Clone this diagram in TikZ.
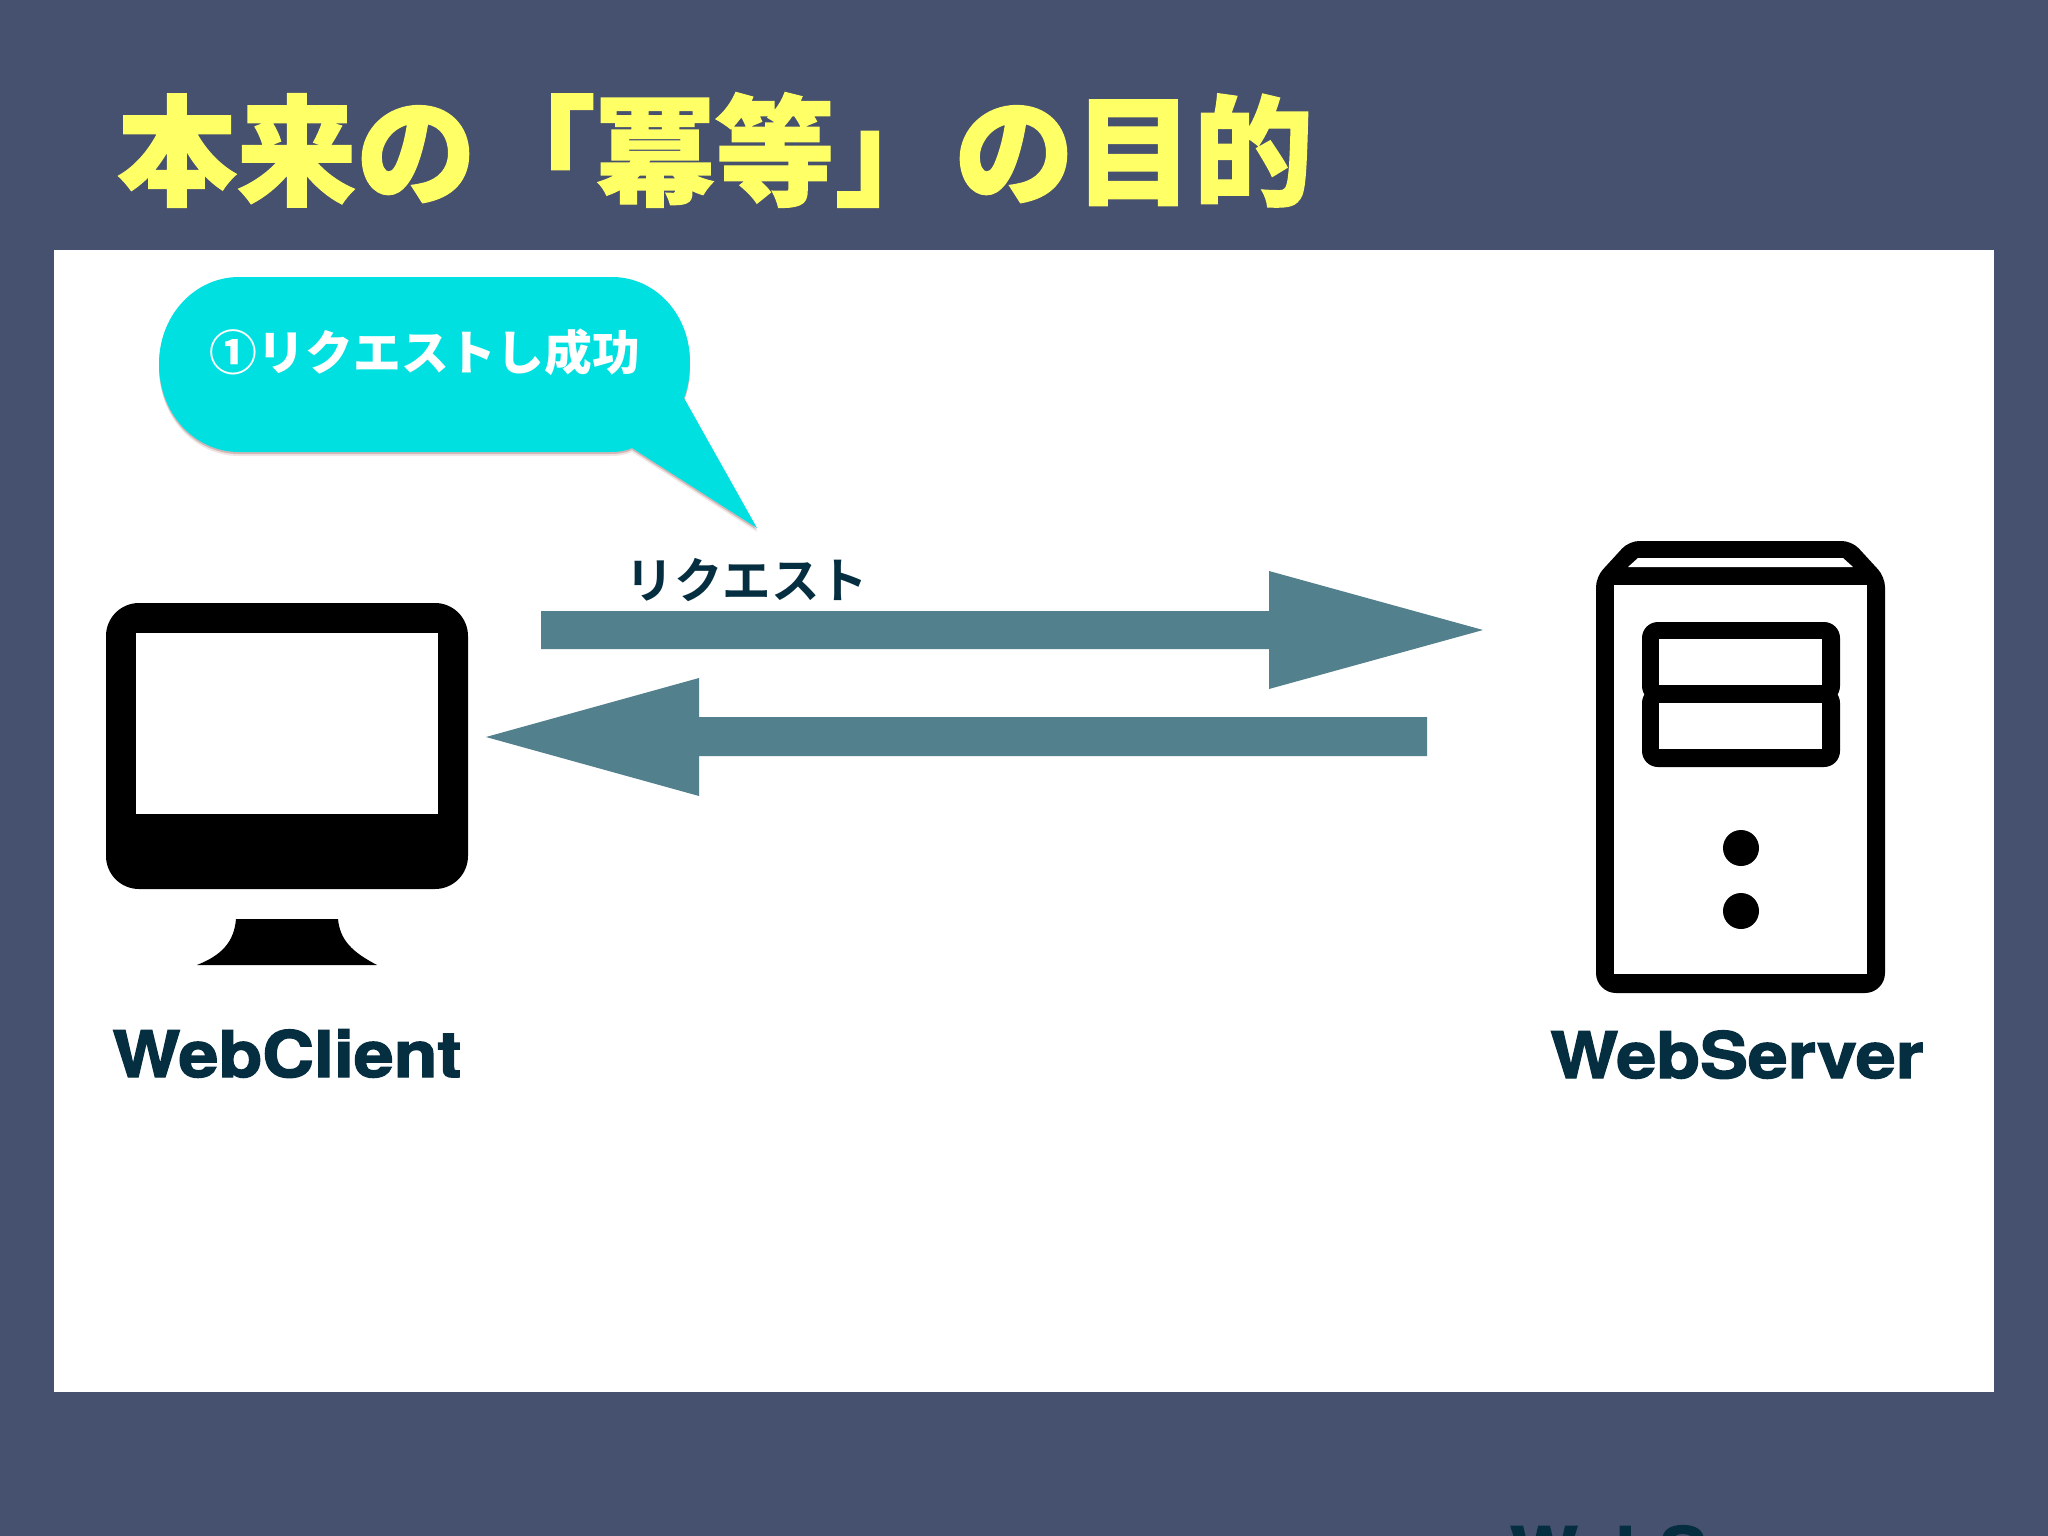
\documentclass[tikz,border=0pt]{standalone}
\usepackage{fontspec}
\newfontfamily\blk{Noto Sans CJK JP Black}
\newfontfamily\blkx[FakeBold=1.2]{Noto Sans CJK JP Black}
\newfontfamily\bld{Noto Sans CJK JP Bold}
\newfontfamily\lat[FakeBold=2.2,FakeStretch=1.12]{TeX Gyre Heros Bold}
\definecolor{bgnavy}{HTML}{46506F}
\definecolor{ttlyellow}{HTML}{FFFF66}
\definecolor{bubblecyan}{HTML}{00E0E0}
\definecolor{arrowteal}{HTML}{53808D}
\definecolor{inkdark}{HTML}{052E40}
\tikzset{
  ttl/.style={anchor=base west,inner sep=0pt,text=ttlyellow,font=\blkx\fontsize{119.6}{120}\selectfont},
  hostlabel/.style={anchor=base,inner sep=0pt,text=inkdark,font=\lat\fontsize{64}{64}\selectfont},
  blockarrow/.style={fill=arrowteal,draw=none},
  bubblepath/.style={fill=bubblecyan,draw=none},
  ink/.style={fill=black,draw=none},
  hole/.style={fill=white,draw=none}
}
\begin{document}
\begin{tikzpicture}[x=1pt,y=-1pt]
\useasboundingbox (0,0) rectangle (2048,1536);
\clip (0,0) rectangle (2048,1536);
\fill[bgnavy] (0,0) rectangle (2048,1536);
\fill[white] (54,250) rectangle (1994,1392);
\node[ttl] (title) at (117,196) {本来の「冪等」の目的};
% speech bubble
\def\bubble{(239,277) -- (612,277) .. controls (655,277) and (690,314) .. (690,362) .. controls (690,376) and (688,388) .. (684,398) -- (757,528) -- (632,448) .. controls (626,451) and (618,452) .. (610,452) -- (239,452) .. controls (195,452) and (159,414) .. (159,364) .. controls (159,315) and (195,277) .. (239,277) -- cycle}
\fill[black!60!red,opacity=.10] [yshift=-4pt] \bubble;
\fill[black!60!red,opacity=.20] [yshift=-2pt] \bubble;
\path[bubblepath] \bubble;
\node[inner sep=0pt,text=white,font=\blk\fontsize{47.8}{48}\selectfont] (bubbletext) at (425,352) {①リクエストし成功};
% arrows
\coordinate (reqtail) at (541,630);
\coordinate (reqtip) at (1483,630);
\coordinate (restail) at (1427,737);
\coordinate (restip) at (486,737);
\path[blockarrow] (reqtail) ++(0,-19) -- (1269,611) -- (1269,571) -- (reqtip) -- (1269,689) -- (1269,649) -- (541,649) -- cycle;
\path[blockarrow] (restail) ++(0,-20) -- (699,717) -- (699,678) -- (restip) -- (699,796) -- (699,756) -- (1427,756) -- cycle;
\node[inner sep=0pt,text=inkdark,font=\bld\fontsize{48.5}{48}\selectfont] (reqlabel) at (747,580) {リクエスト};
% monitor
\path[ink,rounded corners=33pt] (106,603) rectangle (468,889);
\path[hole] (136,633) rectangle (438,814);
\path[ink] (236,919) -- (338,919) .. controls (340,940) and (352,952) .. (377,965) -- (197,965) .. controls (222,955) and (234,942) .. (236,919) -- cycle;
\node[hostlabel] (client) at (287,1077) {WebClient};
% server
\path[ink] (1596,620) [rounded corners=10pt] -- (1596,577) -- (1629,541) -- (1852,541) -- (1885,577) -- (1885,620) [rounded corners=20pt] -- (1885,993) -- (1596,993) -- (1596,620) -- cycle;
\path[hole] (1628,567) -- (1638,558) -- (1843,558) -- (1853,567) -- cycle;
\path[hole] (1614,585) rectangle (1867,974);
\path[ink,rounded corners=16pt] (1642,622) rectangle (1840,702);
\path[ink,rounded corners=16pt] (1642,687) rectangle (1840,767);
\path[hole] (1659,639) rectangle (1822,685);
\path[hole] (1659,703) rectangle (1822,749);
\path[ink] (1741,848) circle (18);
\path[ink] (1741,911) circle (18);
\node[hostlabel] (server) at (1737,1078) {WebServer};
\node[anchor=base west,inner sep=0pt,text=inkdark,font=\lat\fontsize{64}{64}\selectfont] (cutoff) at (1510,1573) {WebS};
\end{tikzpicture}
\end{document}
